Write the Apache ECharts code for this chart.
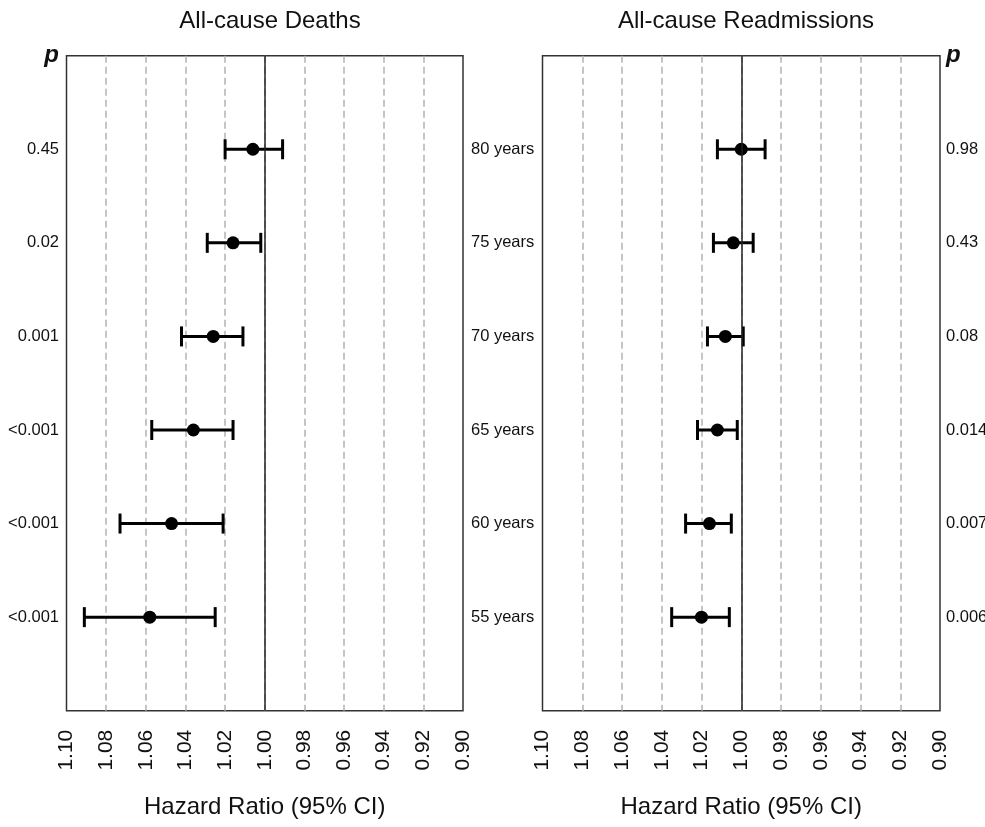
<!DOCTYPE html>
<html>
<head>
<meta charset="utf-8">
<script src="https://cdn.jsdelivr.net/npm/echarts@6/dist/echarts.min.js"></script>
<style>
  html, body { margin: 0; padding: 0; background: #fff; }
  #main { width: 985px; height: 827px; }
</style>
</head>
<body>
<div id="main"></div>
<script>
// rows bottom to top
var ageLabels = ["55 years", "60 years", "65 years", "70 years", "75 years", "80 years"];

var deathHR = [1.058, 1.047, 1.036, 1.026, 1.016, 1.006];
var deathLow = [1.025, 1.021, 1.016, 1.011, 1.002, 0.991];
var deathHigh = [1.091, 1.073, 1.057, 1.042, 1.029, 1.020];
var deathP = ["<0.001", "<0.001", "<0.001", "0.001", "0.02", "0.45"];

var readmHR = [1.020, 1.016, 1.012, 1.008, 1.004, 1.000];
var readmLow = [1.006, 1.005, 1.002, 0.999, 0.994, 0.988];
var readmHigh = [1.035, 1.028, 1.022, 1.017, 1.014, 1.012];
var readmP = ["0.006", "0.007", "0.014", "0.08", "0.43", "0.98"];

var xMin = 0.90;
var xMax = 1.10;
var xStep = 0.02;

var font = "'Liberation Sans', Arial, Helvetica, sans-serif";

function barData(low, high) {
  var out = [];
  for (var i = 0; i < low.length; i++) {
    out.push([low[i], high[i], i + 1]);
  }
  return out;
}

function pointData(hr) {
  var out = [];
  for (var i = 0; i < hr.length; i++) {
    out.push([hr[i], i + 1]);
  }
  return out;
}

function renderBar(params, api) {
  var y = api.value(2);
  var a = api.coord([api.value(0), y]);
  var b = api.coord([api.value(1), y]);
  var cap = 10;
  var st = { stroke: "#000", lineWidth: 3 };
  return {
    type: "group",
    children: [
      { type: "line", shape: { x1: a[0], y1: a[1], x2: b[0], y2: b[1] }, style: st },
      { type: "line", shape: { x1: a[0], y1: a[1] - cap, x2: a[0], y2: a[1] + cap }, style: st },
      { type: "line", shape: { x1: b[0], y1: b[1] - cap, x2: b[0], y2: b[1] + cap }, style: st }
    ]
  };
}

function rowLabel(list, header) {
  return function (v) {
    if (v === 7) return header ? "{p|p}" : "";
    if (v >= 1 && v <= list.length) return list[v - 1];
    return "";
  };
}

function xAxisFor(idx) {
  return {
    type: "value",
    gridIndex: idx,
    inverse: true,
    min: xMin,
    max: xMax,
    interval: xStep,
    axisLine: { show: false },
    axisTick: { show: false },
    axisLabel: {
      rotate: 90,
      margin: 19,
      fontSize: 21,
      color: "#111",
      fontFamily: font,
      formatter: function (v) { return v.toFixed(2); }
    },
    splitLine: {
      show: true,
      showMinLine: false,
      showMaxLine: false,
      lineStyle: { color: "#b3b3b3", width: 1.5, type: [7, 4] }
    },
    name: "Hazard Ratio (95% CI)",
    nameLocation: "middle",
    nameGap: 85,
    nameTextStyle: { fontSize: 24, color: "#111", fontFamily: font }
  };
}

function yAxisFor(idx, pos, list, header, margin) {
  return {
    type: "value",
    gridIndex: idx,
    position: pos,
    min: 0,
    max: 7,
    interval: 1,
    axisLine: { show: false },
    axisTick: { show: false },
    splitLine: { show: false },
    axisLabel: {
      margin: margin,
      fontSize: 16.5,
      color: "#111",
      fontFamily: font,
      formatter: rowLabel(list, header),
      rich: {
        p: { fontSize: 24, fontWeight: "bold", fontStyle: "italic", color: "#111", fontFamily: font }
      }
    }
  };
}

var chart = echarts.init(document.getElementById("main"));

var option = {
  backgroundColor: "#fff",
  animation: false,
  title: [
    {
      text: "All-cause Deaths",
      left: 265, top: 4, textAlign: "center",
      textStyle: { fontSize: 24, fontWeight: "normal", color: "#111", fontFamily: font }
    },
    {
      text: "All-cause Readmissions",
      left: 741, top: 4, textAlign: "center",
      textStyle: { fontSize: 24, fontWeight: "normal", color: "#111", fontFamily: font }
    }
  ],
  grid: [
    { left: 66.5, top: 55.7, width: 396.5, height: 655, outerBoundsMode: "none", show: true, borderColor: "#333", borderWidth: 1.5, backgroundColor: "transparent" },
    { left: 542.5, top: 55.7, width: 397.5, height: 655, outerBoundsMode: "none", show: true, borderColor: "#333", borderWidth: 1.5, backgroundColor: "transparent" }
  ],
  xAxis: [xAxisFor(0), xAxisFor(1)],
  yAxis: [
    yAxisFor(0, "left", deathP, true, 7.5),
    yAxisFor(0, "right", ageLabels, false, 8),
    yAxisFor(1, "right", readmP, true, 6)
  ],
  series: [
    {
      type: "custom",
      xAxisIndex: 0, yAxisIndex: 0,
      renderItem: renderBar,
      encode: { x: [0, 1], y: 2 },
      data: barData(deathLow, deathHigh),
      z: 3
    },
    {
      type: "scatter",
      xAxisIndex: 0, yAxisIndex: 0,
      symbolSize: 13,
      itemStyle: { color: "#000", opacity: 1 },
      data: pointData(deathHR),
      z: 4,
      markLine: {
        silent: true,
        symbol: "none",
        label: { show: false },
        lineStyle: { color: "#222", type: "solid", width: 1.5 },
        data: [{ xAxis: 1 }]
      }
    },
    {
      type: "custom",
      xAxisIndex: 1, yAxisIndex: 2,
      renderItem: renderBar,
      encode: { x: [0, 1], y: 2 },
      data: barData(readmLow, readmHigh),
      z: 3
    },
    {
      type: "scatter",
      xAxisIndex: 1, yAxisIndex: 2,
      symbolSize: 13,
      itemStyle: { color: "#000", opacity: 1 },
      data: pointData(readmHR),
      z: 4,
      markLine: {
        silent: true,
        symbol: "none",
        label: { show: false },
        lineStyle: { color: "#222", type: "solid", width: 1.5 },
        data: [{ xAxis: 1 }]
      }
    }
  ]
};

chart.setOption(option);
</script>
</body>
</html>
